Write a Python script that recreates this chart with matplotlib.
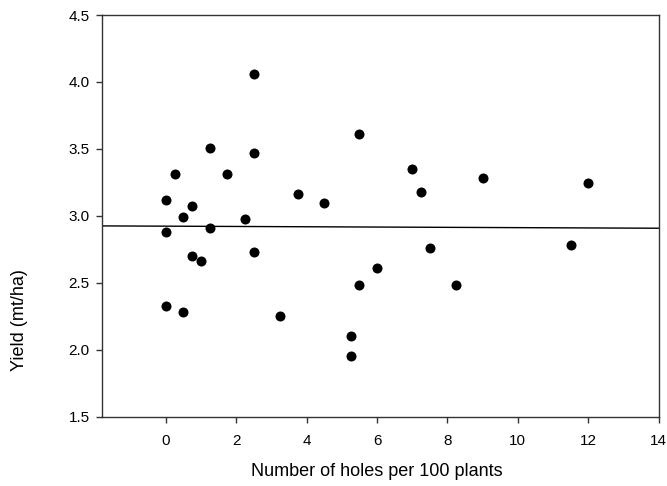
import matplotlib
matplotlib.use("Agg")
import matplotlib.pyplot as plt
import numpy as np

plt.rcParams['font.family'] = ['Liberation Sans', 'DejaVu Sans']

holes = [2.5, 5.5, 1.25, 2.5, 0.25, 1.75, 0.0, 3.75, 4.5, 0.75, 0.5, 2.25,
         1.25, 0.0, 2.5, 0.75, 1.0, 6.0, 5.5, 0.0, 0.5, 3.25, 5.25, 5.25,
         7.0, 7.25, 9.0, 12.0, 7.5, 11.5, 8.25]
yield_ = [4.06, 3.61, 3.51, 3.47, 3.31, 3.31, 3.115, 3.16, 3.095, 3.07, 2.99, 2.975,
          2.91, 2.88, 2.73, 2.70, 2.66, 2.61, 2.48, 2.33, 2.28, 2.25, 2.10, 1.95,
          3.35, 3.18, 3.28, 3.245, 2.76, 2.78, 2.48]

fit_intercept = 2.923
fit_slope = -0.0011

xticks = [0, 2, 4, 6, 8, 10, 12, 14]
yticks = [1.5, 2.0, 2.5, 3.0, 3.5, 4.0, 4.5]
xlim = (-1.81, 14)
ylim = (1.5, 4.5)

fig = plt.figure(figsize=(6.67, 4.86), dpi=100)
ax = fig.add_axes([0.1529, 0.1426, 0.8347, 0.8265])

ax.scatter(holes, yield_, s=52, color='black', zorder=3, linewidths=0)
xl = np.array(xlim)
ax.plot(xl, fit_intercept + fit_slope * xl, color='black', lw=1.0, zorder=2)

ax.set_xlim(*xlim)
ax.set_ylim(*ylim)
ax.set_xticks(xticks)
ax.set_yticks(yticks)
ax.set_yticklabels([f"{v:.1f}" for v in yticks])
ax.tick_params(axis='both', direction='out', length=4.3, width=1, colors='#333333',
               labelsize=11, labelcolor='black')
ax.tick_params(axis='x', pad=8.5)
ax.tick_params(axis='y', pad=4.5)
for sp in ax.spines.values():
    sp.set_color('#333333')
    sp.set_linewidth(1.0)

ax.set_xlabel("Number of holes per 100 plants", fontsize=13)
ax.set_ylabel("Yield (mt/ha)", fontsize=13)
ax.xaxis.set_label_coords(0.493, -0.137)
ax.xaxis.label.set_va('center')
ax.yaxis.set_label_coords(-0.149, 0.241)
ax.yaxis.label.set_va('center')
ax.yaxis.label.set_ha('center')

fig.savefig("out.png", dpi=100)
